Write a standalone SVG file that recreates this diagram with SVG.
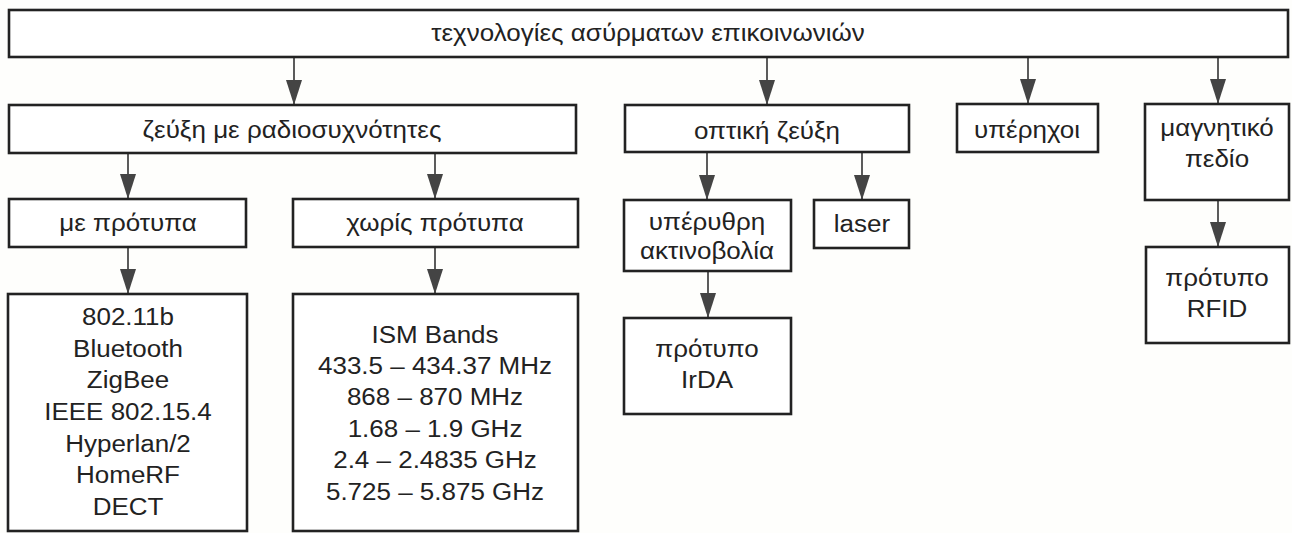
<svg xmlns="http://www.w3.org/2000/svg" width="1292" height="533" viewBox="0 0 1292 533">
<style>
.box{fill:#fff;stroke:#222;stroke-width:2.6}
.t{font-family:"Liberation Sans",Arial,sans-serif;font-size:23px;fill:#222;text-anchor:middle}
.c{stroke:#333;stroke-width:1.6;fill:none;marker-end:url(#ah)}
</style>
<defs>
<marker id="ah" markerUnits="userSpaceOnUse" markerWidth="25" markerHeight="16" refX="25" refY="8" orient="auto" viewBox="0 0 25 16">
<path d="M0,0 L25,8 L0,16 Z" fill="#444"/>
</marker>
</defs>
<rect width="1292" height="533" fill="#fefefc"/>
<g id="connectors">
<line class="c" x1="294" y1="57" x2="294" y2="105"/>
<line class="c" x1="767" y1="57" x2="767" y2="105"/>
<line class="c" x1="1028" y1="57" x2="1028" y2="104"/>
<line class="c" x1="1218" y1="57" x2="1218" y2="104"/>
<line class="c" x1="128" y1="153" x2="128" y2="199"/>
<line class="c" x1="435" y1="153" x2="435" y2="199"/>
<line class="c" x1="707" y1="152" x2="707" y2="200"/>
<line class="c" x1="862" y1="152" x2="862" y2="200"/>
<line class="c" x1="128" y1="247" x2="128" y2="294"/>
<line class="c" x1="435" y1="247" x2="435" y2="294"/>
<line class="c" x1="708" y1="271" x2="708" y2="318"/>
<line class="c" x1="1218" y1="200" x2="1218" y2="247"/>
</g>
<g id="root"><rect class="box" x="9" y="10" width="1279" height="47"/><text class="t" transform="translate(648 41) scale(1.13 1)">τεχνολογίες ασύρματων επικοινωνιών</text></g>
<g id="radio"><rect class="box" x="9" y="105" width="567" height="48"/><text class="t" transform="translate(292 138) scale(1.13 1)">ζεύξη με ραδιοσυχνότητες</text></g>
<g id="optical"><rect class="box" x="625" y="105" width="284" height="47"/><text class="t" transform="translate(767 139) scale(1.13 1)">οπτική ζεύξη</text></g>
<g id="ultrasound"><rect class="box" x="957" y="104" width="141" height="48"/><text class="t" transform="translate(1027 138) scale(1.13 1)">υπέρηχοι</text></g>
<g id="magnetic"><rect class="box" x="1145" y="104" width="144" height="96"/><text class="t" transform="translate(1217 136) scale(1.13 1)">μαγνητικό</text><text class="t" transform="translate(1217 167) scale(1.13 1)">πεδίο</text></g>
<g id="standards"><rect class="box" x="9" y="199" width="237" height="48"/><text class="t" transform="translate(128 231) scale(1.13 1)">με πρότυπα</text></g>
<g id="nostandards"><rect class="box" x="293" y="199" width="285" height="48"/><text class="t" transform="translate(435 231) scale(1.13 1)">χωρίς πρότυπα</text></g>
<g id="infrared"><rect class="box" x="624" y="200" width="167" height="71"/><text class="t" transform="translate(707 230) scale(1.13 1)">υπέρυθρη</text><text class="t" transform="translate(707 259) scale(1.13 1)">ακτινοβολία</text></g>
<g id="laser"><rect class="box" x="814" y="200" width="95" height="48"/><text class="t" transform="translate(862 232) scale(1.13 1)">laser</text></g>
<g id="irda"><rect class="box" x="624" y="318" width="167" height="96"/><text class="t" transform="translate(707 357) scale(1.13 1)">πρότυπο</text><text class="t" transform="translate(707 388) scale(1.13 1)">IrDA</text></g>
<g id="rfid"><rect class="box" x="1146" y="247" width="143" height="96"/><text class="t" transform="translate(1217 286) scale(1.13 1)">πρότυπο</text><text class="t" transform="translate(1217 317) scale(1.13 1)">RFID</text></g>
<g id="stdlist"><rect class="box" x="8" y="294" width="239" height="237"/>
<text class="t" transform="translate(128 325) scale(1.13 1)">802.11b</text>
<text class="t" transform="translate(128 357) scale(1.13 1)">Bluetooth</text>
<text class="t" transform="translate(128 388) scale(1.13 1)">ZigBee</text>
<text class="t" transform="translate(128 420) scale(1.13 1)">IEEE 802.15.4</text>
<text class="t" transform="translate(128 452) scale(1.13 1)">Hyperlan/2</text>
<text class="t" transform="translate(128 483) scale(1.13 1)">HomeRF</text>
<text class="t" transform="translate(128 515) scale(1.13 1)">DECT</text>
</g>
<g id="ismlist"><rect class="box" x="293" y="294" width="285" height="237"/>
<text class="t" transform="translate(435 343) scale(1.13 1)">ISM Bands</text>
<text class="t" transform="translate(435 374) scale(1.13 1)">433.5 – 434.37 MHz</text>
<text class="t" transform="translate(435 405) scale(1.13 1)">868 – 870 MHz</text>
<text class="t" transform="translate(435 437) scale(1.13 1)">1.68 – 1.9 GHz</text>
<text class="t" transform="translate(435 468) scale(1.13 1)">2.4 – 2.4835 GHz</text>
<text class="t" transform="translate(435 500) scale(1.13 1)">5.725 – 5.875 GHz</text>
</g>
</svg>
